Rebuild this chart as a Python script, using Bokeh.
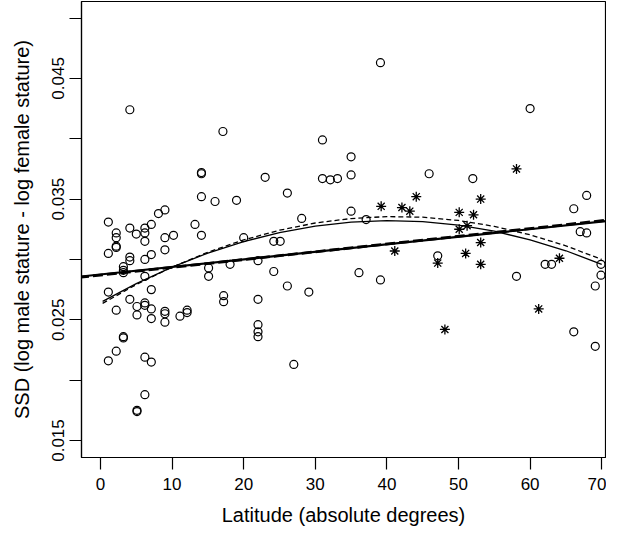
from bokeh.plotting import figure
from bokeh.models import FixedTicker, CustomJSTickFormatter, Range1d
from bokeh.embed import file_html
from bokeh.resources import INLINE

# Data
circ_lat = [4.1, 17.1, 14.1, 14.1, 14.1, 16.0, 19.0, 1.1, 8.1, 9.0, 7.1, 6.2, 4.1, 5.0, 6.2,
            2.2, 2.2, 2.2, 2.2, 1.1, 6.2, 9.0, 10.2, 9.0, 13.2, 14.1, 20.0, 7.1,
            4.1, 4.1, 6.2, 3.2, 3.2, 3.2, 6.2, 1.1, 7.1, 4.1, 2.2, 5.1, 5.1, 6.2, 6.2,
            7.1, 7.1, 9.0, 9.0, 9.0, 11.1, 12.1, 12.1, 15.1, 15.1, 17.2, 17.2, 18.1,
            22.0, 22.0, 22.0, 22.0, 22.0, 3.2, 3.2, 2.2, 1.1, 6.2, 7.1, 6.2, 5.1, 5.1,
            39.1, 31.0, 35.0, 23.0, 31.0, 32.1, 33.1, 35.0, 45.9, 26.1, 35.0, 28.1, 37.1,
            24.2, 25.1, 24.2, 26.1, 29.1, 27.0, 36.1, 39.1,
            52.0, 60.0, 67.9, 66.1, 67.0, 67.9,
            47.1, 58.1, 62.1, 63.0, 69.9, 69.9, 69.1, 66.1, 69.1]
circ_ssd = [0.0424, 0.0406, 0.0372, 0.0371, 0.0352, 0.0348, 0.0349, 0.0331, 0.0338, 0.0341,
            0.0329, 0.0326, 0.0326, 0.0321, 0.0322, 0.0322, 0.0318, 0.0311, 0.0310, 0.0305,
            0.0315, 0.0318, 0.0320, 0.0308, 0.0329, 0.0320, 0.0318, 0.0304,
            0.0302, 0.0299, 0.0300, 0.0294, 0.0291, 0.0289, 0.0286, 0.0273, 0.0275, 0.0267,
            0.0258, 0.0261, 0.0254, 0.0264, 0.0262, 0.0259, 0.0251, 0.0257, 0.0255, 0.0248,
            0.0253, 0.0258, 0.0256, 0.0293, 0.0286, 0.0270, 0.0265, 0.0296,
            0.0299, 0.0267, 0.0246, 0.0240, 0.0236, 0.0236, 0.0235, 0.0224, 0.0216, 0.0219,
            0.0215, 0.0188, 0.0175, 0.0174,
            0.0463, 0.0399, 0.0385, 0.0368, 0.0367, 0.0366, 0.0367, 0.0370, 0.0371, 0.0355,
            0.0340, 0.0334, 0.0333,
            0.0315, 0.0315, 0.0290, 0.0278, 0.0273, 0.0213, 0.0289, 0.0283,
            0.0367, 0.0425, 0.0353, 0.0342, 0.0323, 0.0322,
            0.0303, 0.0286, 0.0296, 0.0296, 0.0296, 0.0287, 0.0278, 0.0240, 0.0228]

star_lat = [39.2, 42.1, 43.2, 44.1, 41.1, 58.1, 53.1, 50.1, 52.1, 51.2, 50.1, 53.1, 51.0,
            47.1, 53.1, 64.1, 61.2, 48.1]
star_ssd = [0.0344, 0.0343, 0.0340, 0.0352, 0.0307, 0.0375, 0.0350, 0.0339, 0.0337, 0.0328,
            0.0325, 0.0314, 0.0305, 0.0297, 0.0296, 0.0301, 0.0259, 0.0242]

curve_lat = [0.3, 5, 10, 15, 20, 25, 30, 35, 40, 45, 50, 55, 60, 65, 70]
curve_solid = [0.02653, 0.02800, 0.02937, 0.03053, 0.03148, 0.03222, 0.03276, 0.03309,
               0.03321, 0.03313, 0.03284, 0.03234, 0.03163, 0.03072, 0.02960]
curve_dashed = [0.02636, 0.02792, 0.02936, 0.03060, 0.03162, 0.03242, 0.03302, 0.03339,
                0.03355, 0.03350, 0.03323, 0.03274, 0.03204, 0.03113, 0.03000]

line_lat = [-3, 73]
line_solid = [0.02857, 0.03332]
line_dashed = [0.02851, 0.03340]

x_ticks = [0, 10, 20, 30, 40, 50, 60, 70]
y_ticks = [0.015, 0.020, 0.025, 0.030, 0.035, 0.040, 0.045, 0.050]

p = figure(width=606, height=530, output_backend="svg", toolbar_location=None,
           x_range=Range1d(-2.65, 70.53), y_range=Range1d(0.013592, 0.05137),
           min_border_left=81, min_border_right=1, min_border_top=1, min_border_bottom=73,
           background_fill_color="white", border_fill_color="white")
p.xgrid.visible = False
p.ygrid.visible = False
p.outline_line_color = "black"
p.outline_line_width = 1.2

FONT = "Liberation Sans"
for ax in (p.xaxis[0], p.yaxis[0]):
    ax.major_tick_out = 12
    ax.major_tick_in = 0
    ax.minor_tick_line_color = None
    ax.major_tick_line_color = "black"
    ax.major_tick_line_width = 1.2
    ax.axis_line_color = "black"
    ax.axis_line_width = 1.2
    ax.major_label_text_font = FONT
    ax.major_label_text_font_size = "17px"
    ax.major_label_text_color = "black"
    ax.axis_label_text_font = FONT
    ax.axis_label_text_font_size = "20px"
    ax.axis_label_text_font_style = "normal"
    ax.axis_label_text_color = "black"

p.xaxis.ticker = FixedTicker(ticks=x_ticks)
p.xaxis.axis_label = "Latitude (absolute degrees)"
p.xaxis.major_label_standoff = 8
p.xaxis.axis_label_standoff = 11

p.yaxis.ticker = FixedTicker(ticks=y_ticks)
p.yaxis.formatter = CustomJSTickFormatter(
    code="const k = Math.round(tick*1000); return (k % 10 == 5) ? tick.toFixed(3) : '';")
p.yaxis.major_label_orientation = "vertical"
p.yaxis.axis_label = "SSD (log male stature - log female stature)"
p.yaxis.major_label_standoff = 5
p.yaxis.axis_label_standoff = 17

p.line(line_lat, line_solid, line_color="black", line_width=2.2)
p.line(line_lat, line_dashed, line_color="black", line_width=2.8, line_dash="10 4")
p.line(curve_lat, curve_solid, line_color="black", line_width=1.3)
p.line(curve_lat, curve_dashed, line_color="black", line_width=1.3, line_dash="5 3")

p.scatter(circ_lat, circ_ssd, marker="circle", size=8, fill_color=None,
          line_color="black", line_width=1.2)
p.scatter(star_lat, star_ssd, marker="asterisk", size=10,
          line_color="black", line_width=1.3)

open("out.html", "w").write(file_html(p, INLINE))
